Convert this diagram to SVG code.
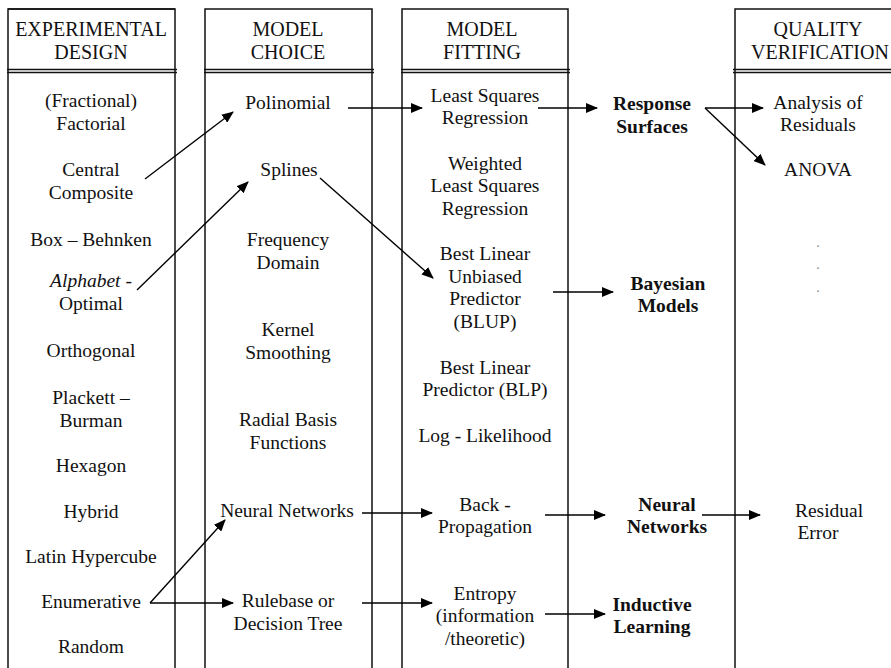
<svg xmlns="http://www.w3.org/2000/svg" width="891" height="668" viewBox="0 0 891 668">
<defs>
<marker id="ah" markerWidth="12" markerHeight="10" refX="11" refY="5" orient="auto" markerUnits="userSpaceOnUse">
<path d="M0,0 L12,5 L0,10 Z" fill="#000"/>
</marker>
<style>
.col{fill:none;stroke:#111;stroke-width:1.5}
.dl{stroke:#111;stroke-width:1.5}
text{font-family:"Liberation Serif","Times New Roman",serif;font-size:19.5px;fill:#111;text-anchor:middle}
.hd{font-size:20px}
.b{font-weight:bold}
.it{font-style:italic}
.dot{fill:#888;font-size:14px}
.c{stroke:#000;stroke-width:1.4;fill:none;marker-end:url(#ah)}
</style>
</defs>
<rect width="891" height="668" fill="#fff"/>

<g id="col-experimental">
<path class="col" d="M8,669 V9 H175 V669"/>
<path class="dl" d="M8,9 H175" stroke-width="2.2"/>
<path class="dl" d="M7,69.5 H177 M7,72.5 H177"/>
<text class="hd" x="91" y="36">EXPERIMENTAL</text>
<text class="hd" x="91" y="59">DESIGN</text>
</g>
<g id="col-model-choice">
<path class="col" d="M205,669 V9 H372 V669"/>
<path class="dl" d="M204,69.5 H374 M204,72.5 H374"/>
<text class="hd" x="288" y="36">MODEL</text>
<text class="hd" x="288" y="59">CHOICE</text>
</g>
<g id="col-model-fitting">
<path class="col" d="M402,669 V9 H568 V669"/>
<path class="dl" d="M401,69.5 H570 M401,72.5 H570"/>
<text class="hd" x="482" y="36">MODEL</text>
<text class="hd" x="482" y="59">FITTING</text>
</g>
<g id="col-quality">
<path class="col" d="M735,669 V9 H892"/>
<path class="dl" d="M733,69.5 H891 M733,72.5 H891"/>
<text class="hd" x="818" y="36">QUALITY</text>
<text class="hd" x="820" y="59">VERIFICATION</text>
</g>

<g id="n-fractional"><text x="91" y="107">(Fractional)</text><text x="91" y="130">Factorial</text></g>
<g id="n-central"><text x="91" y="176">Central</text><text x="91" y="199">Composite</text></g>
<g id="n-box"><text x="91" y="246">Box – Behnken</text></g>
<g id="n-alphabet"><text x="91" y="287"><tspan class="it">Alphabet</tspan> -</text><text x="91" y="310">Optimal</text></g>
<g id="n-orthogonal"><text x="91" y="357">Orthogonal</text></g>
<g id="n-plackett"><text x="91" y="404">Plackett –</text><text x="91" y="427">Burman</text></g>
<g id="n-hexagon"><text x="91" y="472">Hexagon</text></g>
<g id="n-hybrid"><text x="91" y="518">Hybrid</text></g>
<g id="n-latin"><text x="91" y="563">Latin Hypercube</text></g>
<g id="n-enumerative"><text x="91" y="608">Enumerative</text></g>
<g id="n-random"><text x="91" y="653">Random</text></g>

<g id="n-polinomial"><text x="288" y="109">Polinomial</text></g>
<g id="n-splines"><text x="289" y="176">Splines</text></g>
<g id="n-frequency"><text x="288" y="246">Frequency</text><text x="288" y="269">Domain</text></g>
<g id="n-kernel"><text x="288" y="336">Kernel</text><text x="288" y="359">Smoothing</text></g>
<g id="n-radial"><text x="288" y="426">Radial Basis</text><text x="288" y="449">Functions</text></g>
<g id="n-neural-choice"><text x="287" y="517">Neural Networks</text></g>
<g id="n-rulebase"><text x="288" y="607">Rulebase or</text><text x="288" y="630">Decision Tree</text></g>

<g id="n-least-squares"><text x="485" y="102">Least Squares</text><text x="485" y="124">Regression</text></g>
<g id="n-weighted"><text x="485" y="170">Weighted</text><text x="485" y="192">Least Squares</text><text x="485" y="215">Regression</text></g>
<g id="n-blup"><text x="485" y="260">Best Linear</text><text x="485" y="283">Unbiased</text><text x="485" y="305">Predictor</text><text x="485" y="328">(BLUP)</text></g>
<g id="n-blp"><text x="485" y="374">Best Linear</text><text x="485" y="396">Predictor (BLP)</text></g>
<g id="n-loglik"><text x="485" y="442">Log - Likelihood</text></g>
<g id="n-backprop"><text x="485" y="511">Back -</text><text x="485" y="533">Propagation</text></g>
<g id="n-entropy"><text x="485" y="600">Entropy</text><text x="485" y="622">(information</text><text x="485" y="645">/theoretic)</text></g>

<g id="n-response"><text class="b" x="652" y="110">Response</text><text class="b" x="652" y="133">Surfaces</text></g>
<g id="n-bayesian"><text class="b" x="668" y="290">Bayesian</text><text class="b" x="668" y="312">Models</text></g>
<g id="n-neural-net"><text class="b" x="667" y="511">Neural</text><text class="b" x="667" y="533">Networks</text></g>
<g id="n-inductive"><text class="b" x="652" y="611">Inductive</text><text class="b" x="652" y="633">Learning</text></g>

<g id="n-analysis"><text x="818" y="109">Analysis of</text><text x="818" y="131">Residuals</text></g>
<g id="n-anova"><text x="818" y="176">ANOVA</text></g>
<g id="n-dots"><text class="dot" x="818" y="247">.</text><text class="dot" x="818" y="269">.</text><text class="dot" x="818" y="292">.</text></g>
<g id="n-residual"><text x="829" y="517">Residual</text><text x="818" y="539">Error</text></g>

<g id="connectors">
<line class="c" x1="145" y1="179" x2="233" y2="112"/>
<line class="c" x1="137" y1="290" x2="248" y2="182"/>
<line class="c" x1="320" y1="178" x2="433" y2="278"/>
<line class="c" x1="348" y1="108" x2="422" y2="108"/>
<line class="c" x1="538" y1="108" x2="597" y2="108"/>
<line class="c" x1="705" y1="108" x2="763" y2="108"/>
<line class="c" x1="705" y1="108" x2="765" y2="165"/>
<line class="c" x1="553" y1="292" x2="613" y2="292"/>
<line class="c" x1="362" y1="513" x2="432" y2="513"/>
<line class="c" x1="545" y1="515" x2="605" y2="515"/>
<line class="c" x1="702" y1="515" x2="760" y2="515"/>
<line class="c" x1="150" y1="603" x2="225" y2="520"/>
<line class="c" x1="150" y1="603" x2="233" y2="603"/>
<line class="c" x1="362" y1="603" x2="432" y2="603"/>
<line class="c" x1="545" y1="614" x2="605" y2="614"/>
</g>
</svg>
